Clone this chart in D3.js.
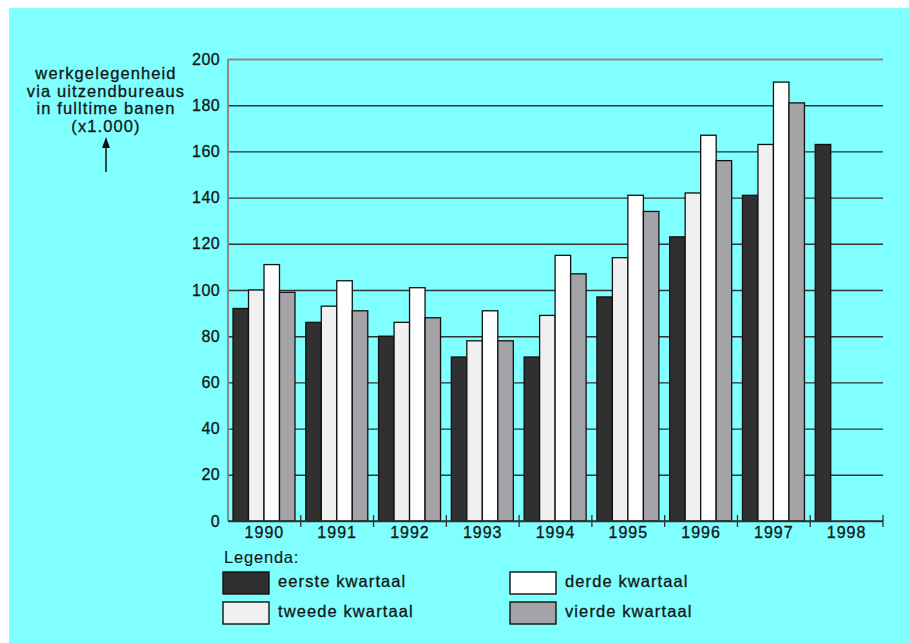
<!DOCTYPE html>
<html>
<head>
<meta charset="utf-8">
<script src="https://cdn.jsdelivr.net/npm/d3@7"></script>
<style>
  body { margin: 0; background: #fff; }
  svg text { font-family: "Liberation Sans", Arial, sans-serif; fill: #151515; stroke: #151515; stroke-width: 0.3px; }
</style>
</head>
<body>
<svg id="chart"></svg>
<script>
// jaren en kwartalen
var jaren = ["1990", "1991", "1992", "1993", "1994", "1995", "1996", "1997", "1998"];
var kwartalen = ["eerste kwartaal", "tweede kwartaal", "derde kwartaal", "vierde kwartaal"];
var kleuren = ["#303030", "#f0f0f0", "#ffffff", "#a4a4a8"];

// werkgelegenheid x1.000 per kwartaal
var eerste = [92, 86, 80, 71, 71, 97, 123, 141, 163];
var tweede = [100, 93, 86, 78, 89, 114, 142, 163, null];
var derde  = [111, 104, 101, 91, 115, 141, 167, 190, null];
var vierde = [99, 91, 88, 78, 107, 134, 156, 181, null];
var reeksen = [eerste, tweede, derde, vierde];

var yTicks = [0, 20, 40, 60, 80, 100, 120, 140, 160, 180, 200];
var labelRegels = ["werkgelegenheid", "via uitzendbureaus", "in fulltime banen", "(x1.000)"];

var W = 909, H = 643;
var asLinks = 228, asRechts = 883, asBoven = 59, asOnder = 521;

var svg = d3.select("#chart").attr("width", W).attr("height", H);

// achtergrond
svg.append("rect").attr("x", 9).attr("y", 8).attr("width", W - 9).attr("height", H - 8)
  .attr("fill", "#80ffff");

var x0 = d3.scaleBand().domain(jaren).range([asLinks, asRechts]).padding(0);
var x1 = d3.scaleBand().domain(d3.range(4)).range([5, 67]).padding(0);
var y = d3.scaleLinear().domain([0, 200]).range([asOnder, asBoven]);

// y-as met rasterlijnen
var yAxis = svg.append("g")
  .attr("transform", "translate(" + asLinks + ",0)")
  .call(d3.axisLeft(y).tickValues(yTicks).tickSize(-(asRechts - asLinks)).tickPadding(8));
yAxis.select(".domain").remove();
yAxis.selectAll(".tick line")
  .attr("stroke", function(d) { return d == 200 ? "#8a8a8a" : "#333"; })
  .attr("stroke-width", function(d) { return d == 200 ? 2 : 1.4; });
yAxis.selectAll(".tick text")
  .attr("font-size", 16).attr("fill", "#151515")
  .style("letter-spacing", "0.4px");

// linker as grijs
svg.append("line").attr("x1", asLinks).attr("x2", asLinks).attr("y1", asBoven).attr("y2", asOnder)
  .attr("stroke", "#8a8a8a").attr("stroke-width", 2);

// balken
var data = [];
jaren.forEach(function(j, i) {
  reeksen.forEach(function(r, k) {
    if (r[i] != null) data.push({ jaar: j, k: k, v: r[i] });
  });
});

svg.append("g").selectAll("rect")
  .data(data)
  .enter()
  .append("rect")
  .attr("x", function(d) { return x0(d.jaar) + x1(d.k); })
  .attr("y", function(d) { return y(d.v); })
  .attr("width", x1.bandwidth())
  .attr("height", function(d) { return y(0) - y(d.v); })
  .attr("fill", function(d) { return kleuren[d.k]; })
  .attr("stroke", "#111")
  .attr("stroke-width", 1.3);

// x-as
var xAxis = svg.append("g")
  .attr("transform", "translate(0," + asOnder + ")")
  .call(d3.axisBottom(x0).tickSize(0).tickPadding(6));
xAxis.select(".domain").remove();
xAxis.selectAll(".tick text")
  .attr("font-size", 16).attr("fill", "#151515")
  .style("letter-spacing", "1px");

svg.append("line").attr("x1", asLinks).attr("x2", asRechts).attr("y1", asOnder).attr("y2", asOnder)
  .attr("stroke", "#333").attr("stroke-width", 1.5);

svg.append("g").selectAll("line")
  .data(jaren.slice(1).concat(["eind"]))
  .enter()
  .append("line")
  .attr("x1", function(d) { return d == "eind" ? asRechts : x0(d); })
  .attr("x2", function(d) { return d == "eind" ? asRechts : x0(d); })
  .attr("y1", asOnder - 6).attr("y2", asOnder + 6)
  .attr("stroke", "#333").attr("stroke-width", 1.3);

// as-label
var lbl = svg.append("text").attr("text-anchor", "middle").attr("font-size", 16.5)
  .style("letter-spacing", "1.1px");
labelRegels.forEach(function(t, i) {
  lbl.append("tspan").attr("x", 106).attr("y", 79 + i * 17.6).text(t);
});

svg.append("line").attr("x1", 106).attr("x2", 106).attr("y1", 172).attr("y2", 145)
  .attr("stroke", "#111").attr("stroke-width", 1.5);
svg.append("path").attr("d", "M106,137 L102,148 L110,148 Z").attr("fill", "#111");

// legenda
svg.append("text").attr("x", 224).attr("y", 563).attr("font-size", 16.5)
  .style("letter-spacing", "0.8px").style("stroke-width", "0.1px").text("Legenda:");

var posities = [[223, 572], [223, 602], [510, 572], [510, 602]];
var leg = svg.append("g").selectAll("g")
  .data(kwartalen)
  .enter()
  .append("g")
  .attr("transform", function(d, i) { return "translate(" + posities[i][0] + "," + posities[i][1] + ")"; });

leg.append("rect")
  .attr("width", 46).attr("height", 22)
  .attr("fill", function(d, i) { return kleuren[i]; })
  .attr("stroke", "#111").attr("stroke-width", 1.4);

leg.append("text")
  .attr("x", 55).attr("y", 15)
  .attr("font-size", 16.5)
  .style("letter-spacing", "1.1px")
  .text(function(d) { return d; });
</script>
</body>
</html>
